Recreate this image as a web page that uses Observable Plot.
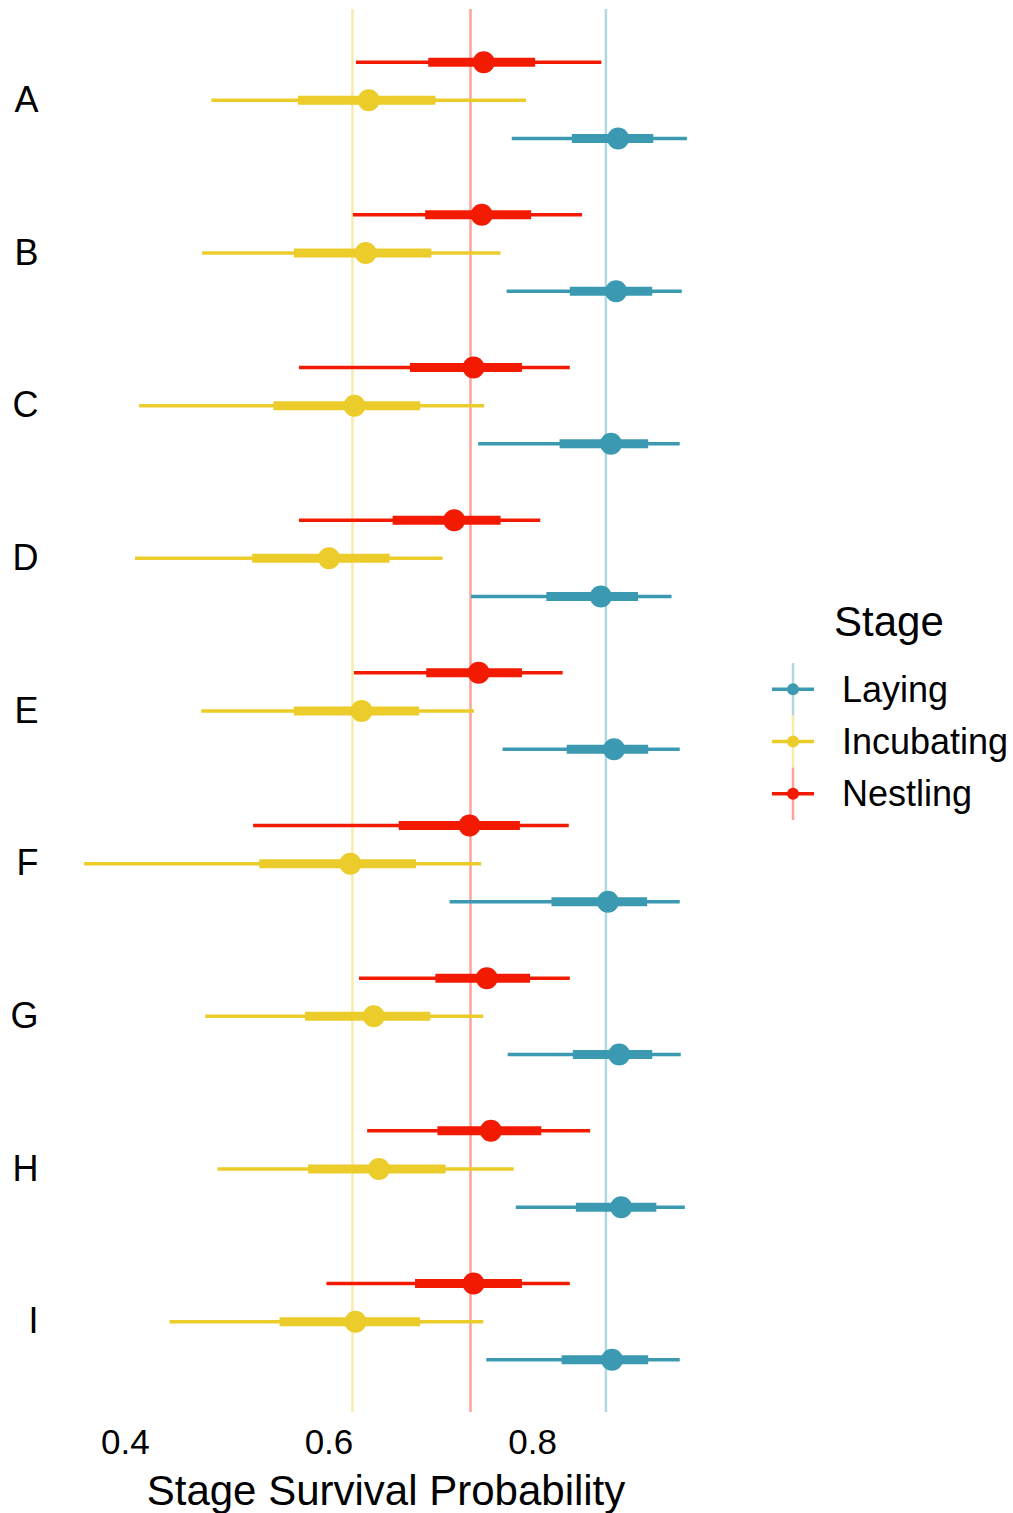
<!DOCTYPE html>
<html><head><meta charset="utf-8">
<script src="https://cdn.jsdelivr.net/npm/d3@7"></script>
<script src="https://cdn.jsdelivr.net/npm/@observablehq/plot@0.6"></script>
<style>
body{margin:0;background:#fff;font-family:"Liberation Sans",Arial,Helvetica,sans-serif;}
#wrap{position:relative;width:1013px;height:1513px;}
#legend{position:absolute;left:740px;top:590px;}
</style></head><body><div id="wrap"><div id="chart"></div><div id="legend"></div></div>
<script>
const categories = ["A","B","C","D","E","F","G","H","I"];
const stages = ["Laying","Incubating","Nestling"];
const stageColors = ["#3B9AB2","#EBCC2A","#F21A00"];
const stageMeans = [0.872, 0.623, 0.739];

const nestlingMid  = [0.752,0.750,0.742,0.723,0.747,0.738,0.755,0.759,0.742];
const nestlingLo   = [0.627,0.624,0.571,0.571,0.625,0.526,0.630,0.638,0.598];
const nestlingHi   = [0.868,0.849,0.837,0.808,0.830,0.836,0.837,0.857,0.837];
const nestlingLo50 = [0.698,0.695,0.680,0.663,0.696,0.669,0.705,0.707,0.685];
const nestlingHi50 = [0.803,0.799,0.790,0.769,0.790,0.788,0.798,0.809,0.790];

const incubMid  = [0.639,0.636,0.625,0.600,0.632,0.621,0.644,0.649,0.626];
const incubLo   = [0.485,0.476,0.414,0.410,0.475,0.360,0.479,0.491,0.444];
const incubHi   = [0.794,0.769,0.753,0.712,0.743,0.750,0.752,0.782,0.752];
const incubLo50 = [0.570,0.566,0.546,0.525,0.566,0.532,0.577,0.580,0.552];
const incubHi50 = [0.705,0.701,0.690,0.660,0.689,0.686,0.700,0.715,0.690];

const layingMid  = [0.884,0.882,0.877,0.867,0.880,0.874,0.885,0.887,0.878];
const layingLo   = [0.780,0.775,0.747,0.740,0.771,0.719,0.776,0.784,0.755];
const layingHi   = [0.952,0.947,0.945,0.937,0.945,0.945,0.946,0.950,0.945];
const layingLo50 = [0.839,0.837,0.827,0.814,0.834,0.819,0.840,0.843,0.829];
const layingHi50 = [0.919,0.918,0.914,0.904,0.914,0.913,0.918,0.922,0.914];

const xTicks = [0.4, 0.6, 0.8];

const series = {
  Laying: [layingMid, layingLo, layingHi, layingLo50, layingHi50],
  Incubating: [incubMid, incubLo, incubHi, incubLo50, incubHi50],
  Nestling: [nestlingMid, nestlingLo, nestlingHi, nestlingLo50, nestlingHi50]
};
const rowOrder = ["Nestling","Incubating","Laying"];
const rows = [];
categories.forEach((c, i) => {
  for (const s of stages) {
    const [m, lo, hi, lo50, hi50] = series[s];
    rows.push({cat: c, stage: s, key: c + "|" + s, mid: m[i], lo: lo[i], hi: hi[i], lo50: lo50[i], hi50: hi50[i]});
  }
});
const yDomain = categories.flatMap(c => [...rowOrder.map(s => c + "|" + s), c + "|gap"]).slice(0, -1);
const means = stages.map((s, i) => ({stage: s, value: stageMeans[i]}));

const font = '"Liberation Sans", Arial, Helvetica, sans-serif';
const chart = Plot.plot({
  width: 1013, height: 1513,
  marginTop: 9, marginBottom: 101, marginLeft: 54, marginRight: 296,
  style: {fontFamily: font, color: "#000", background: "#fff", overflow: "visible"},
  x: {domain: [0.3304, 0.9816]},
  y: {type: "band", domain: yDomain, paddingInner: 0, paddingOuter: 0.88, round: false},
  color: {domain: stages, range: stageColors},
  marks: [
    Plot.ruleX(means, {x: "value", stroke: "stage", strokeOpacity: 0.4, strokeWidth: 2.5}),
    Plot.ruleY(rows, {y: "key", x1: "lo", x2: "hi", stroke: "stage", strokeWidth: 3.5}),
    Plot.ruleY(rows, {y: "key", x1: "lo50", x2: "hi50", stroke: "stage", strokeWidth: 9}),
    Plot.dot(rows, {x: "mid", y: "key", fill: "stage", r: 11}),
    Plot.axisX({ticks: xTicks, tickSize: 0, tickPadding: 17, fontSize: 35, label: null, tickFormat: d3.format(".1f")}),
    Plot.axisY({ticks: yDomain.filter(d => d.endsWith("|Incubating")), tickFormat: d => d.split("|")[0], tickSize: 0, tickPadding: 16, fontSize: 36, label: null}),
    Plot.text(["Stage Survival Probability"], {frameAnchor: "bottom", dy: 92, fontSize: 42, lineAnchor: "bottom", fill: "#000"})
  ]
});
document.getElementById("chart").appendChild(chart);

// legend
const lg = d3.select("#legend").append("svg").attr("width", 273).attr("height", 250)
  .style("font-family", font);
const ly = d3.scaleBand().domain(stages).range([73, 230]);
const col = d3.scaleOrdinal(stages, stageColors);
lg.append("text").attr("x", 94).attr("y", 46).attr("font-size", 42).text("Stage");
const g = lg.selectAll("g").data(stages).join("g");
g.append("line").attr("x1", 53).attr("x2", 53).attr("y1", d => ly(d)).attr("y2", d => ly(d) + ly.bandwidth())
  .attr("stroke", d => col(d)).attr("stroke-opacity", 0.4).attr("stroke-width", 2.5);
g.append("line").attr("x1", 32).attr("x2", 74).attr("y1", d => ly(d) + ly.bandwidth()/2).attr("y2", d => ly(d) + ly.bandwidth()/2)
  .attr("stroke", d => col(d)).attr("stroke-width", 3.5);
g.append("circle").attr("cx", 53).attr("cy", d => ly(d) + ly.bandwidth()/2).attr("r", 6).attr("fill", d => col(d));
g.append("text").attr("x", 102).attr("y", d => ly(d) + ly.bandwidth()/2).attr("dy", "0.35em").attr("font-size", 36).text(d => d);
</script></body></html>
